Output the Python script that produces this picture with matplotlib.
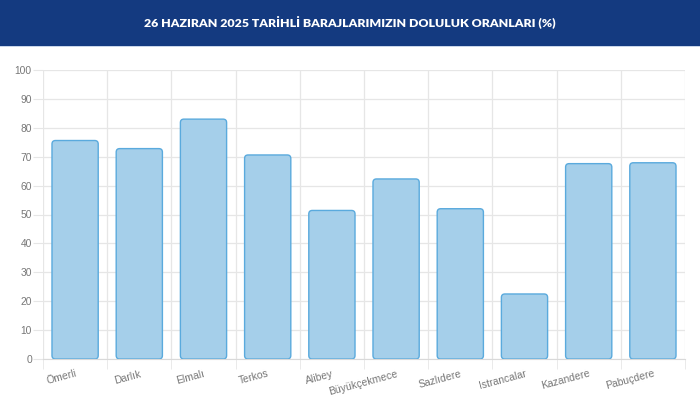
import matplotlib
matplotlib.use("Agg")
import matplotlib.pyplot as plt
from matplotlib.patches import FancyBboxPatch, Rectangle
import numpy as np

# data
barajlar = ["Ömerli", "Darlık", "Elmalı", "Terkos", "Alibey", "Büyükçekmece",
            "Sazlıdere", "Istrancalar", "Kazandere", "Pabuçdere"]
doluluk = [75.6, 72.8, 83.0, 70.6, 51.4, 62.3, 52.0, 22.5, 67.6, 67.9]
baslik = "26 HAZIRAN 2025 TARİHLİ BARAJLARIMIZIN DOLULUK ORANLARI (%)"
y_ticks = list(range(0, 101, 10))

W, H = 700, 409
grid_col = "#e6e6e6"
fill_col = "#a5cfea"
edge_col = "#5aaadd"
txt_col = "#777777"

plt.rcParams["font.family"] = ["Liberation Sans", "DejaVu Sans"]

fig = plt.figure(figsize=(W / 100, H / 100), dpi=100)
fig.patch.set_facecolor("white")

# header band
fig.patches.append(Rectangle((0, 1 - 46 / H), 1, 46 / H, transform=fig.transFigure,
                             facecolor="#143a80", edgecolor="none", zorder=0))
fig.patches.append(Rectangle((0, 1 - 47 / H), 1, 1.2 / H, transform=fig.transFigure,
                             facecolor="#c9d6ea", edgecolor="none", zorder=0))
fig.text(0.5, 1 - 23 / H, baslik, color="white", fontsize=8.9, fontweight="heavy",
         family=["Lato", "DejaVu Sans"], ha="center", va="center")

ax = fig.add_axes([43 / W, 50 / H, 642 / W, 289 / H])
n = len(barajlar)
ax.set_xlim(0, n)
ax.set_ylim(0, 100)

# px per data unit, for round corners
sx = 642 / n
sy = 289 / 100
bw = 0.72
for i, v in enumerate(doluluk):
    p = FancyBboxPatch((i + (1 - bw) / 2, 0), bw, v,
                       boxstyle="round,pad=0,rounding_size=%f" % (3.5 / sx),
                       mutation_aspect=sx / sy,
                       facecolor=fill_col, edgecolor=edge_col, linewidth=1.0, zorder=3)
    ax.add_patch(p)

ax.set_yticks(y_ticks)
ax.set_yticklabels([str(t) for t in y_ticks])
ax.set_xticks(np.arange(n) + 0.5)
ax.set_xticklabels(barajlar, rotation=15, ha="right", rotation_mode="anchor")
ax.set_xticks(np.arange(n + 1), minor=True)

ax.tick_params(axis="y", length=7, color=grid_col, labelcolor=txt_col, labelsize=7.4, pad=1)
ax.tick_params(axis="x", which="major", length=0, labelcolor=txt_col, labelsize=7.5, pad=7)
ax.tick_params(axis="x", which="minor", length=7, color=grid_col)

for t in y_ticks:
    ax.axhline(t, color=grid_col, linewidth=0.9, zorder=1)
for k in range(n + 1):
    ax.axvline(k, color=grid_col, linewidth=0.9, zorder=1)

for s in ax.spines.values():
    s.set_visible(False)
ax.spines["bottom"].set_visible(True)
ax.spines["bottom"].set_color("#d9d9d9")
ax.spines["bottom"].set_zorder(4)

fig.savefig("out.png", dpi=100)
